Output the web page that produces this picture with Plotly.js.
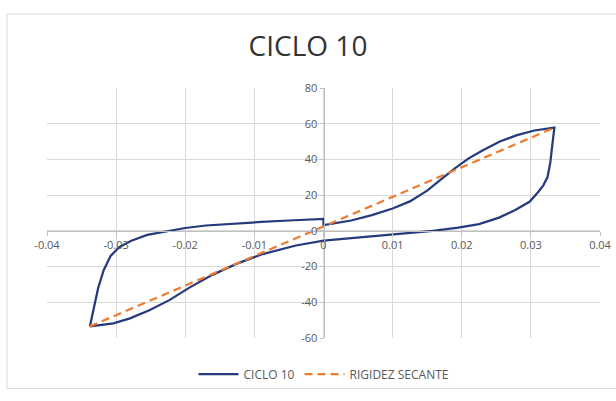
<!DOCTYPE html>
<html>
<head>
<meta charset="utf-8">
<script src="https://cdn.plot.ly/plotly-3.0.1.min.js"></script>
<style>html,body{margin:0;padding:0;background:#fff;}#chart{width:616px;height:401px;}</style>
</head>
<body>
<div id="chart"></div>
<script>
// Hysteresis loop (CICLO 10)
const cicloX = [-0.0338, -0.0333, -0.0326, -0.0318, -0.0308, -0.0295, -0.0278, -0.0255, -0.0225, -0.02, -0.017, -0.013, -0.009, -0.005, 0,
  0, 0.004, 0.007, 0.010, 0.0125, 0.015, 0.017, 0.019, 0.021, 0.023, 0.0255, 0.028, 0.0305, 0.0334,
  0.0331, 0.0328, 0.0324, 0.0318, 0.031, 0.0298, 0.0278, 0.0254, 0.0225, 0.0195, 0.0158, 0.011, 0.006, 0,
  -0.004, -0.0088, -0.0126, -0.016, -0.0194, -0.0223, -0.0252, -0.028, -0.0304, -0.0338];
const cicloY = [-53.5, -44, -32, -22, -14, -9, -5.5, -2.3, 0, 1.6, 3.0, 4.1, 5.0, 5.8, 6.7,
  3.2, 5.8, 8.8, 12.5, 16.5, 22.5, 28.8, 35, 40.6, 45, 50, 53.6, 56.2, 57.8,
  48, 38, 30, 25.5, 21.5, 16.3, 11.8, 7.4, 3.8, 1.8, 0, -1.8, -3.6, -5.5,
  -8.2, -13, -18.5, -24.5, -31.8, -38.8, -44.5, -49, -51.8, -53.5];
// Secant stiffness line
const secanteX = [-0.0338, 0.0334];
const secanteY = [-53.5, 57.8];
// Tick labels
const xTickVals = [-0.04, -0.03, -0.02, -0.01, 0, 0.01, 0.02, 0.03, 0.04];
const xTickText = ["-0.04", "-0.03", "-0.02", "-0.01", "0", "0.01", "0.02", "0.03", "0.04"];
const yTickVals = [-60, -40, -20, 0, 20, 40, 60, 80];
const yTickText = ["-60", "-40", "-20", "0", "20", "40", "60", "80"];

const traces = [
  {x: cicloX, y: cicloY, type: 'scatter', mode: 'lines', name: 'CICLO 10',
   line: {color: '#263B7E', width: 2.25}},
  {x: secanteX, y: secanteY, type: 'scatter', mode: 'lines', name: 'RIGIDEZ SECANTE',
   line: {color: '#ED7D31', width: 2.25, dash: '8px,5px'}}
];

const tickFont = {family: 'Open Sans, sans-serif', size: 11, color: '#595959'};
const layout = {
  width: 616, height: 401,
  margin: {l: 47, r: 16, t: 88, b: 56},
  paper_bgcolor: '#ffffff', plot_bgcolor: '#ffffff',
  title: {text: 'CICLO 10', x: 0.5, xanchor: 'center', y: 0.885, yanchor: 'middle',
          font: {family: 'Open Sans, sans-serif', size: 28, color: '#333333'}},
  xaxis: {range: [-0.04, 0.04], tickvals: xTickVals, ticktext: xTickText,
          showgrid: true, gridcolor: '#D9D9D9', gridwidth: 1, zeroline: false,
          anchor: 'free', position: 60/140, showline: true, linecolor: '#BFBFBF', linewidth: 1,
          ticks: 'outside', ticklen: 4, tickcolor: '#BFBFBF', tickfont: tickFont, fixedrange: true},
  yaxis: {range: [-60, 80], tickvals: yTickVals, ticktext: yTickText,
          showgrid: true, gridcolor: '#D9D9D9', gridwidth: 1, zeroline: false,
          anchor: 'free', position: 0.5, showline: true, linecolor: '#BFBFBF', linewidth: 1,
          ticks: 'outside', ticklen: 4, tickcolor: '#BFBFBF', tickfont: tickFont, fixedrange: true},
  showlegend: true,
  legend: {orientation: 'h', x: 0.5, xanchor: 'center', y: -0.144, yanchor: 'middle',
           font: {family: 'Open Sans, sans-serif', size: 12, color: '#595959'},
           bgcolor: 'rgba(0,0,0,0)', itemwidth: 40},
  shapes: [
    {type: 'rect', xref: 'paper', yref: 'paper', x0: -0.0723, x1: 1.03, y0: -0.2023, y1: 1.2957,
     line: {color: '#D9D9D9', width: 1}, fillcolor: 'rgba(0,0,0,0)', layer: 'below'}
  ]
};
Plotly.newPlot('chart', traces, layout, {displayModeBar: false, staticPlot: true});
</script>
</body>
</html>
